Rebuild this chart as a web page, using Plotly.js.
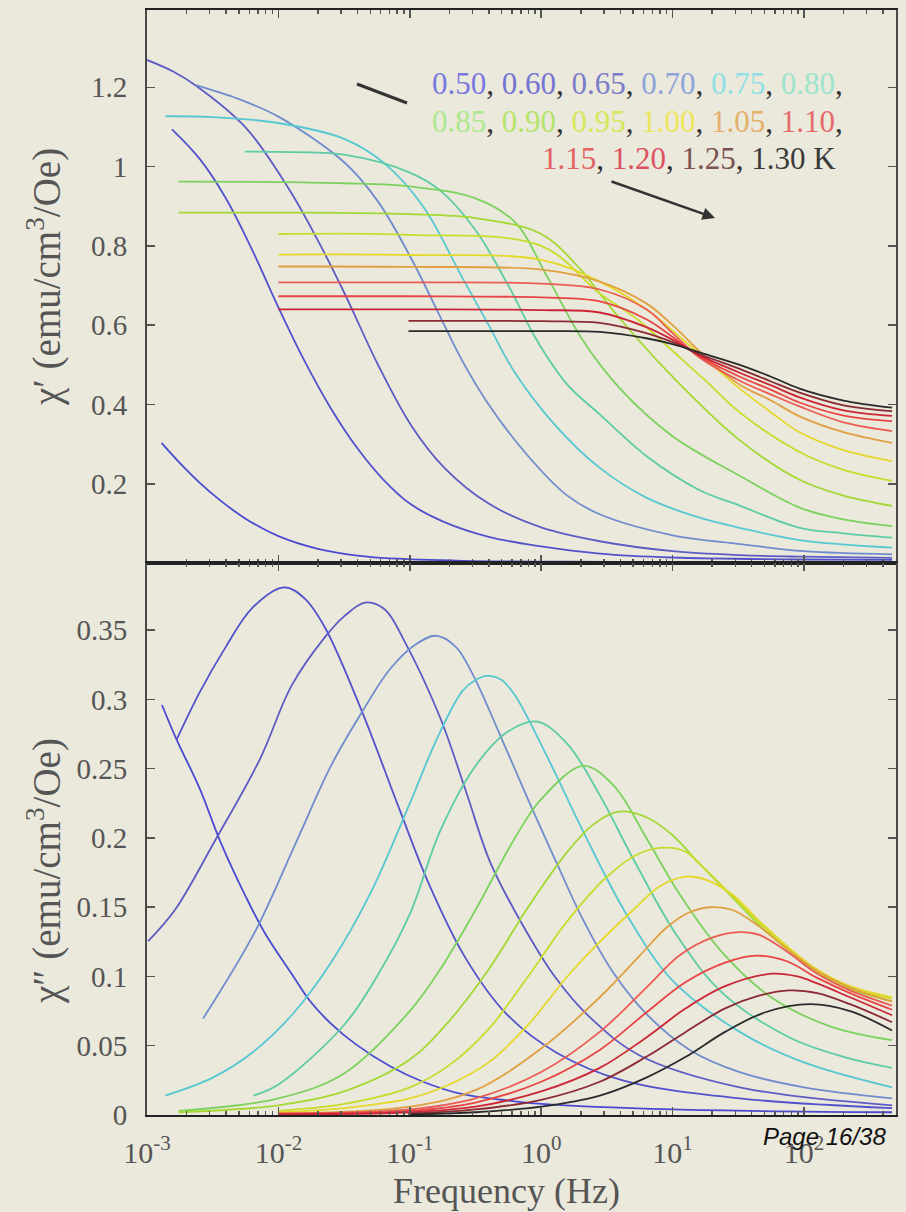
<!DOCTYPE html>
<html><head><meta charset="utf-8">
<script src="https://cdn.plot.ly/plotly-3.0.1.min.js"></script>
<style>html,body{margin:0;padding:0;background:#ebe8dc;}</style>
</head><body><div id="chart" style="width:906px;height:1212px;"></div>
<script>
const temps = [0.50,0.60,0.65,0.70,0.75,0.80,0.85,0.90,0.95,1.00,1.05,1.10,1.15,1.20,1.25,1.30];
const lineColors = ['#4b4bd2','#5252cc','#5c5cc4','#6f8ccc','#56c8d2','#5ccca4','#7cd25e','#a4d832','#c8dc2c','#e4d82a','#e0a042','#ec5c54','#e84444','#cc2636','#8a2a32','#2a2a2a'];
const labelColors = ['#7878e0','#7474d4','#7c7cc8','#8ca4d8','#8ee0e4','#9ce4cc','#ace88e','#b4e46a','#d4e85a','#ece65a','#e4b06c','#e66a6a','#e46262','#dc5262','#7a5252','#3a3a3a'];

// chi' (top panel): frequency (Hz) and values
const freqTop = [
 [0.00129,0.00178,0.00251,0.00355,0.00562,0.01,0.02,0.0398,0.0794,0.316,3.16,468],
 [0.00155,0.00251,0.00398,0.00631,0.01,0.0158,0.0251,0.0398,0.0631,0.1,0.178,0.398,1,2.79,10,100,468],
 [0.001,0.00158,0.00232,0.00562,0.0119,0.0201,0.0321,0.0575,0.103,0.185,0.398,1,2.79,10,32.4,100,468],
 [0.00232,0.00501,0.01,0.0321,0.0575,0.103,0.185,0.251,0.398,0.794,1.58,2.79,10,32.4,100,468],
 [0.00138,0.00316,0.01,0.0316,0.0631,0.126,0.251,0.398,0.631,1.26,2.79,6.31,15.8,32.4,92.5,468],
 [0.00556,0.01,0.0316,0.1,0.17,0.316,0.562,0.933,1.58,2.79,6.31,15.8,32.4,92.5,200,468],
 [0.00174,0.01,0.0316,0.1,0.316,0.631,1.12,2.09,3.98,10,32.4,92.5,200,468],
 [0.00174,0.01,0.1,0.316,1,2,2.79,3.89,10,32.4,92.5,200,468],
 [0.01,0.1,1,2.79,5.62,8.91,17.8,32.4,92.5,200,468],
 [0.01,0.1,1,2.79,6.31,12.3,20,32.4,56.2,92.5,200,468],
 [0.01,0.1,1,2.79,6.31,10,19.1,32.4,56.2,92.5,200,468],
 [0.01,0.1,1,2.79,6.31,10,15.8,32.4,56.2,92.5,200,468],
 [0.01,0.1,1,2.79,6.31,10,15.8,32.4,56.2,92.5,200,468],
 [0.01,0.1,1,2.79,6.31,10,15.8,32.4,56.2,92.5,200,468],
 [0.0977,1,2.79,6.31,10,15.8,32.4,56.2,92.5,200,468],
 [0.0977,1,2.79,6.31,10,15.8,32.4,56.2,92.5,200,468]
];
const chiReal = [
 [0.303,0.252,0.203,0.160,0.112,0.068,0.036,0.019,0.011,0.005,0.003,0.002],
 [1.094,1.02,0.92,0.79,0.645,0.51,0.39,0.29,0.21,0.15,0.105,0.066,0.042,0.024,0.014,0.009,0.008],
 [1.269,1.24,1.206,1.099,0.946,0.812,0.678,0.499,0.346,0.239,0.15,0.09,0.055,0.03,0.02,0.016,0.013],
 [1.206,1.17,1.126,1.009,0.911,0.767,0.597,0.51,0.40,0.27,0.17,0.123,0.07,0.048,0.03,0.022],
 [1.127,1.125,1.11,1.07,1.01,0.90,0.72,0.60,0.48,0.35,0.24,0.165,0.115,0.089,0.058,0.039],
 [1.038,1.037,1.03,0.985,0.94,0.84,0.70,0.56,0.45,0.375,0.27,0.185,0.145,0.089,0.075,0.064],
 [0.962,0.961,0.958,0.95,0.92,0.86,0.72,0.56,0.44,0.32,0.22,0.14,0.11,0.093],
 [0.884,0.884,0.88,0.87,0.83,0.74,0.68,0.62,0.47,0.31,0.21,0.17,0.144],
 [0.830,0.828,0.80,0.68,0.61,0.55,0.46,0.38,0.28,0.235,0.207],
 [0.778,0.777,0.765,0.71,0.64,0.56,0.50,0.44,0.38,0.33,0.285,0.257],
 [0.748,0.747,0.74,0.71,0.655,0.60,0.51,0.45,0.41,0.37,0.33,0.303],
 [0.708,0.708,0.705,0.69,0.64,0.58,0.52,0.46,0.425,0.395,0.355,0.333],
 [0.673,0.673,0.67,0.66,0.615,0.57,0.522,0.47,0.437,0.405,0.372,0.358],
 [0.640,0.640,0.638,0.632,0.595,0.563,0.525,0.48,0.448,0.418,0.385,0.371],
 [0.611,0.61,0.606,0.58,0.557,0.528,0.49,0.458,0.43,0.398,0.383],
 [0.585,0.585,0.583,0.567,0.552,0.532,0.50,0.47,0.44,0.41,0.392]
];

// chi'' (bottom panel): frequency (Hz) and values
const freqBot = [
 [0.0013,0.00168,0.00251,0.00363,0.00562,0.00782,0.0126,0.0174,0.0251,0.0389,0.0714,0.126,0.251,0.501,1,10,468],
 [0.00168,0.00251,0.00398,0.00631,0.011,0.0158,0.0226,0.043,0.0813,0.138,0.263,0.543,1.31,4.17,32.4,468],
 [0.00102,0.00163,0.00329,0.00724,0.0126,0.0226,0.0316,0.0457,0.0646,0.0912,0.17,0.269,0.407,0.724,1.30,2.34,5.62,32.4,468],
 [0.00267,0.00661,0.0135,0.0251,0.0427,0.0708,0.112,0.158,0.224,0.302,0.483,0.818,1.31,2.08,3.52,6.31,13.5,32.4,100,468],
 [0.00138,0.00316,0.00631,0.0126,0.0251,0.0501,0.1,0.158,0.251,0.316,0.389,0.5,0.631,1.16,2.08,4.45,10,32.4,100,468],
 [0.00646,0.01,0.0316,0.0562,0.1,0.17,0.316,0.562,0.933,1.58,2.75,5.01,10.7,24,77.6,200,468],
 [0.00174,0.01,0.0316,0.1,0.17,0.316,0.631,1,2.09,3.55,6.31,11.2,25.1,56.2,158,468],
 [0.00174,0.01,0.0316,0.1,0.2,0.398,0.794,1.58,2.51,3.89,6.31,10,15.8,28.6,45.7,74.1,126,224,468],
 [0.01,0.0316,0.1,0.2,0.398,0.794,1.58,3.16,5.62,8.91,12.6,15.8,28.6,45.7,74.1,126,224,468],
 [0.01,0.0316,0.1,0.2,0.398,0.794,1.58,2.79,5.01,7.94,12.3,17.8,28.6,45.7,74.1,126,224,468],
 [0.01,0.1,0.316,1,2.79,5.62,8.91,13.2,19.1,28.6,45.7,74.1,126,224,468],
 [0.01,0.1,0.316,1,2.79,6.31,11.2,20,32.4,45.7,74.1,126,224,468],
 [0.01,0.1,0.316,1,2.79,6.31,12.6,25.1,43.7,74.1,126,224,468],
 [0.01,0.1,0.316,1,2.79,6.31,12.6,25.1,57.5,89.1,126,224,468],
 [0.0977,0.316,1,2.79,6.31,12.6,25.1,44.7,77.6,126,224,468],
 [0.0977,0.316,1,2.79,6.31,12.6,25.1,50.1,112,224,468]
];
const chiImag = [
 [0.296,0.271,0.236,0.197,0.158,0.132,0.102,0.0823,0.066,0.051,0.035,0.024,0.015,0.011,0.008,0.004,0.002],
 [0.271,0.305,0.338,0.366,0.381,0.373,0.352,0.292,0.2235,0.168,0.114,0.073,0.045,0.025,0.012,0.005],
 [0.1255,0.148,0.198,0.257,0.31,0.345,0.36,0.370,0.365,0.342,0.287,0.233,0.183,0.137,0.0985,0.0706,0.043,0.020,0.007],
 [0.0696,0.132,0.196,0.252,0.29,0.322,0.340,0.346,0.338,0.318,0.275,0.225,0.182,0.141,0.103,0.073,0.047,0.031,0.02,0.012],
 [0.014,0.027,0.045,0.072,0.11,0.16,0.225,0.27,0.306,0.314,0.317,0.314,0.303,0.255,0.205,0.145,0.097,0.060,0.038,0.020],
 [0.014,0.022,0.065,0.10,0.145,0.205,0.252,0.277,0.284,0.268,0.232,0.185,0.13,0.088,0.056,0.042,0.034],
 [0.003,0.012,0.03,0.075,0.105,0.148,0.20,0.228,0.252,0.238,0.20,0.16,0.115,0.085,0.064,0.054],
 [0.002,0.007,0.017,0.04,0.068,0.105,0.15,0.19,0.21,0.219,0.215,0.202,0.182,0.157,0.137,0.12,0.103,0.091,0.082],
 [0.003,0.008,0.02,0.036,0.062,0.10,0.14,0.172,0.189,0.193,0.19,0.182,0.158,0.139,0.121,0.104,0.092,0.084],
 [0.002,0.005,0.012,0.022,0.038,0.065,0.10,0.125,0.148,0.165,0.172,0.17,0.159,0.14,0.122,0.105,0.093,0.085],
 [0.001,0.006,0.018,0.048,0.085,0.115,0.135,0.146,0.150,0.148,0.136,0.12,0.104,0.092,0.082],
 [0.001,0.004,0.012,0.031,0.06,0.092,0.115,0.128,0.132,0.13,0.118,0.102,0.09,0.079],
 [0.001,0.003,0.009,0.024,0.047,0.074,0.096,0.11,0.115,0.111,0.099,0.088,0.076],
 [0.0005,0.002,0.006,0.017,0.034,0.056,0.077,0.093,0.102,0.10,0.095,0.085,0.072],
 [0.001,0.004,0.011,0.024,0.042,0.06,0.077,0.086,0.090,0.088,0.08,0.067],
 [0.0005,0.002,0.006,0.014,0.027,0.042,0.06,0.074,0.080,0.075,0.061]
];

const xTickVals = [0.001,0.01,0.1,1,10,100];
const xTickText = ['10<sup>-3</sup>','10<sup>-2</sup>','10<sup>-1</sup>','10<sup>0</sup>','10<sup>1</sup>','10<sup>2</sup>'];
const y1TickVals = [0.2,0.4,0.6,0.8,1,1.2];
const y1TickText = ['0.2','0.4','0.6','0.8','1','1.2'];
const y2TickVals = [0,0.05,0.1,0.15,0.2,0.25,0.3,0.35];
const y2TickText = ['0','0.05','0.1','0.15','0.2','0.25','0.3','0.35'];

const traces = [];
temps.forEach((t,i)=>{
  traces.push({x:freqTop[i], y:chiReal[i], xaxis:'x', yaxis:'y', mode:'lines', showlegend:false,
    line:{color:lineColors[i], width:1.8, shape:'spline', smoothing:1}, hoverinfo:'skip'});
});
temps.forEach((t,i)=>{
  traces.push({x:freqBot[i], y:chiImag[i], xaxis:'x2', yaxis:'y2', mode:'lines', showlegend:false,
    line:{color:lineColors[i], width:1.8, shape:'spline', smoothing:1}, hoverinfo:'skip'});
});

// geometry helpers (page pixels -> paper fractions)
const L=147, R=896, T=10, B=1115;
const px = v => (v-L)/(R-L);
const py = v => (B-v)/(B-T);

const serif = 'Liberation Serif, Times New Roman, serif';
const axisCommon = {showgrid:false, zeroline:false, showline:true, linecolor:'#4a4a4a', linewidth:2,
  mirror:'ticks', ticks:'inside', ticklen:8, tickwidth:1.5, tickcolor:'#555'};

function legendLine(idx, suffix){
  return idx.map(i=>`<span style="color:${labelColors[i]}">${temps[i].toFixed(2)}</span>`).join('<span style="color:#333">, </span>') + suffix;
}

const layout = {
  width:906, height:1212,
  margin:{l:L, r:906-R, t:T, b:1212-B},
  paper_bgcolor:'#ebe8dc', plot_bgcolor:'#ebe8dc',
  font:{family:serif, color:'#555'},
  xaxis:Object.assign({}, axisCommon, {type:'log', range:[-3,2.7], anchor:'y', showticklabels:false,
    tickvals:xTickVals, linecolor:'#222',
    minor:{ticks:'inside', ticklen:4, tickcolor:'#555', dtick:'D1'}}),
  xaxis2:Object.assign({}, axisCommon, {type:'log', range:[-3,2.7], anchor:'y2', matches:'x',
    tickvals:xTickVals, ticktext:xTickText, linecolor:'#222',
    tickfont:{family:serif, size:30, color:'#555'}, ticklabelstandoff:10,
    minor:{ticks:'inside', ticklen:4, tickcolor:'#555', dtick:'D1'}}),
  yaxis:Object.assign({}, axisCommon, {domain:[0.4995,1], range:[0,1.395], anchor:'x',
    tickvals:y1TickVals, ticktext:y1TickText, tickfont:{family:serif, size:29, color:'#555'}, ticklabelstandoff:12}),
  yaxis2:Object.assign({}, axisCommon, {domain:[0,0.4995], range:[0,0.3985], anchor:'x2',
    tickvals:y2TickVals, ticktext:y2TickText, tickfont:{family:serif, size:29, color:'#555'}, ticklabelstandoff:12}),
  annotations:[
    {xref:'paper', yref:'paper', x:px(44), y:py(277), text:'χ′ (emu/cm<sup>3</sup>/Oe)', textangle:-90,
      showarrow:false, xanchor:'center', yanchor:'middle', font:{family:serif, size:39, color:'#555'}},
    {xref:'paper', yref:'paper', x:px(44), y:py(871), text:'χ″ (emu/cm<sup>3</sup>/Oe)', textangle:-90,
      showarrow:false, xanchor:'center', yanchor:'middle', font:{family:serif, size:39, color:'#555'}},
    {xref:'paper', yref:'paper', x:px(506), y:py(1191), text:'Frequency (Hz)', showarrow:false,
      xanchor:'center', yanchor:'middle', font:{family:serif, size:36, color:'#555'}},
    {xref:'paper', yref:'paper', x:px(888), y:py(1136), text:'Page 16/38', showarrow:false,
      xanchor:'right', yanchor:'middle', font:{family:'Liberation Sans Narrow, Liberation Sans, Arial, sans-serif', size:24, color:'#111', style:'italic'}},
    {xref:'paper', yref:'paper', x:px(845), y:py(84), text:legendLine([0,1,2,3,4,5], '<span style="color:#333">,</span>'),
      showarrow:false, xanchor:'right', yanchor:'middle', font:{family:serif, size:31}},
    {xref:'paper', yref:'paper', x:px(845), y:py(122), text:legendLine([6,7,8,9,10,11], '<span style="color:#333">,</span>'),
      showarrow:false, xanchor:'right', yanchor:'middle', font:{family:serif, size:31}},
    {xref:'paper', yref:'paper', x:px(838), y:py(159), text:legendLine([12,13,14,15], '<span style="color:#3a3a3a"> K</span>'),
      showarrow:false, xanchor:'right', yanchor:'middle', font:{family:serif, size:31}},
    {xref:'paper', yref:'paper', x:px(715), y:py(218), ax:-105, ay:-37, text:'', showarrow:true,
      arrowhead:2, arrowsize:1, arrowwidth:2.5, arrowcolor:'#333'}
  ],
  shapes:[
    {type:'line', xref:'paper', yref:'paper', x0:px(357), y0:py(84), x1:px(407), y1:py(103),
      line:{color:'#333', width:3}}
  ]
};

Plotly.newPlot('chart', traces, layout, {staticPlot:true, displayModeBar:false});
</script>
</body></html>
